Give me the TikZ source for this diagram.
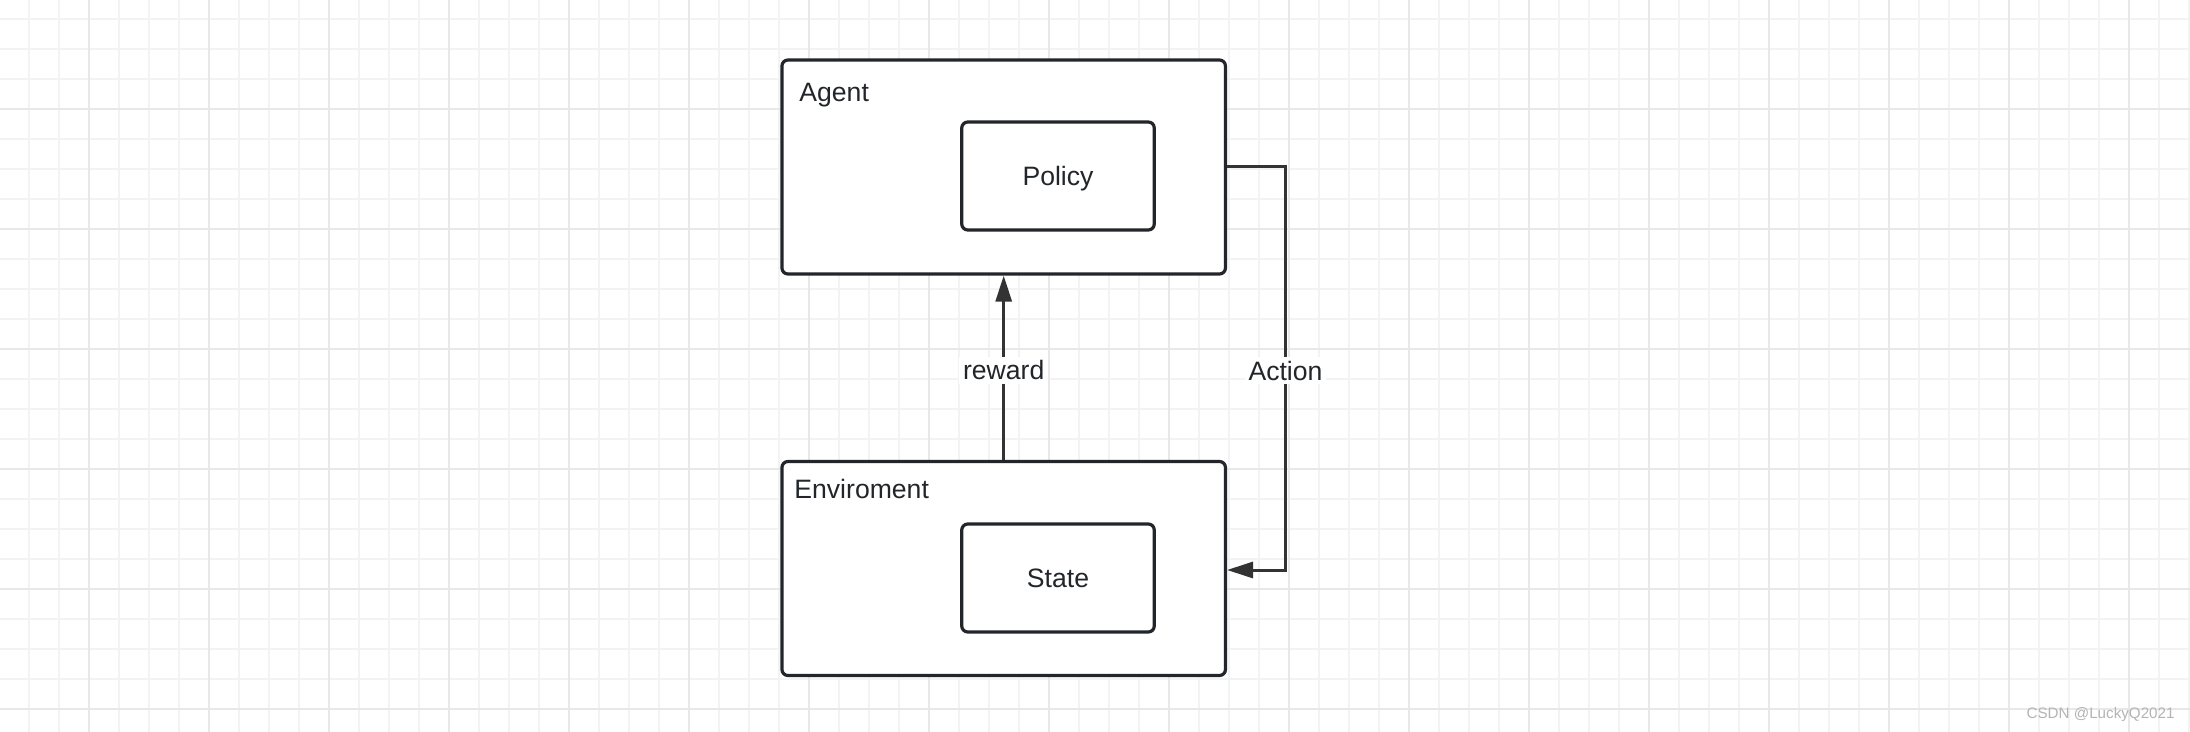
\documentclass[tikz,border=0pt]{standalone}
\usepackage{fontspec}
\setmainfont{Liberation Sans}
\usepackage{tikz}
\usetikzlibrary{arrows.meta,calc,positioning}
\definecolor{boxline}{HTML}{22262A}
\definecolor{arrowline}{HTML}{333333}
\definecolor{gridminor}{HTML}{F3F3F3}
\definecolor{gridmajor}{HTML}{E8E8E8}
\definecolor{markgray}{HTML}{B4B4B4}

\begin{document}
\begin{tikzpicture}[
		x=0.5pt, y=-0.5pt,
		outerbox/.style={draw=boxline, line width=1.6pt, rounded corners=3pt, fill=white, minimum width=221.75pt, minimum height=107pt, inner sep=0pt},
		innerbox/.style={draw=boxline, line width=1.6pt, rounded corners=3pt, fill=white, minimum width=96.25pt, minimum height=54pt, inner sep=0pt, text height=9.5pt, text depth=0pt, font=\fontsize{13.3}{16}\selectfont, text=boxline},
		boxtitle/.style={anchor=base west, inner sep=0pt, font=\fontsize{13.3}{16}\selectfont, text=boxline},
		flow/.style={draw=arrowline, line width=1.5pt, -{Triangle[length=13pt,width=8pt]}},
		lbl/.style={fill=white, inner sep=2pt, yshift=-1.2pt, text height=9.5pt, text depth=0pt, font=\fontsize{13.3}{16}\selectfont, text=boxline}
		]
	
		\useasboundingbox (0,0) rectangle (2190,732);
		\fill[white] (0,0) rectangle (2190,732);
	
		% --- Grille ---
		\foreach \x in {29,59,...,2189} \draw[gridminor, line width=0.6pt] (\x,0) -- (\x,732);
		\foreach \y in {19,49,...,731} \draw[gridminor, line width=0.6pt] (0,\y) -- (2190,\y);
		\foreach \x in {89,209,...,2189} \draw[gridmajor, line width=1pt] (\x,0) -- (\x,732);
		\foreach \y in {109,229,...,731} \draw[gridmajor, line width=1pt] (0,\y) -- (2190,\y);
	
		% --- Boites ---
		\node[outerbox] (Agent) at (1003.7, 167) {};
		\node[boxtitle] (AgentT) at (799, 102) {Agent};
		\node[innerbox] (Policy) at (1058, 176) {Policy};
	
		\node[outerbox] (Env) at (1003.7, 568.5) {};
		\node[boxtitle] (EnvT) at (794, 498) {Enviroment};
		\node[innerbox] (State) at (1058, 578) {State};
	
		% --- Fleches ---
		\coordinate (A1) at (1285.5, 167);
		\coordinate (A2) at (1285.5, 570);
	
		\draw[flow] (Env) to node[lbl, midway] {reward} (Agent);
		\draw[flow] (Agent.east) -- (A1) -- node[lbl, pos=0.5] {Action} (A2) -- (Env.east |- A2);
	
		\node[anchor=base east, inner sep=0pt, font=\fontsize{7.6}{9}\selectfont, text=markgray] (Mark) at (2175, 718) {CSDN @LuckyQ2021};
	
	\end{tikzpicture}
\end{document}
